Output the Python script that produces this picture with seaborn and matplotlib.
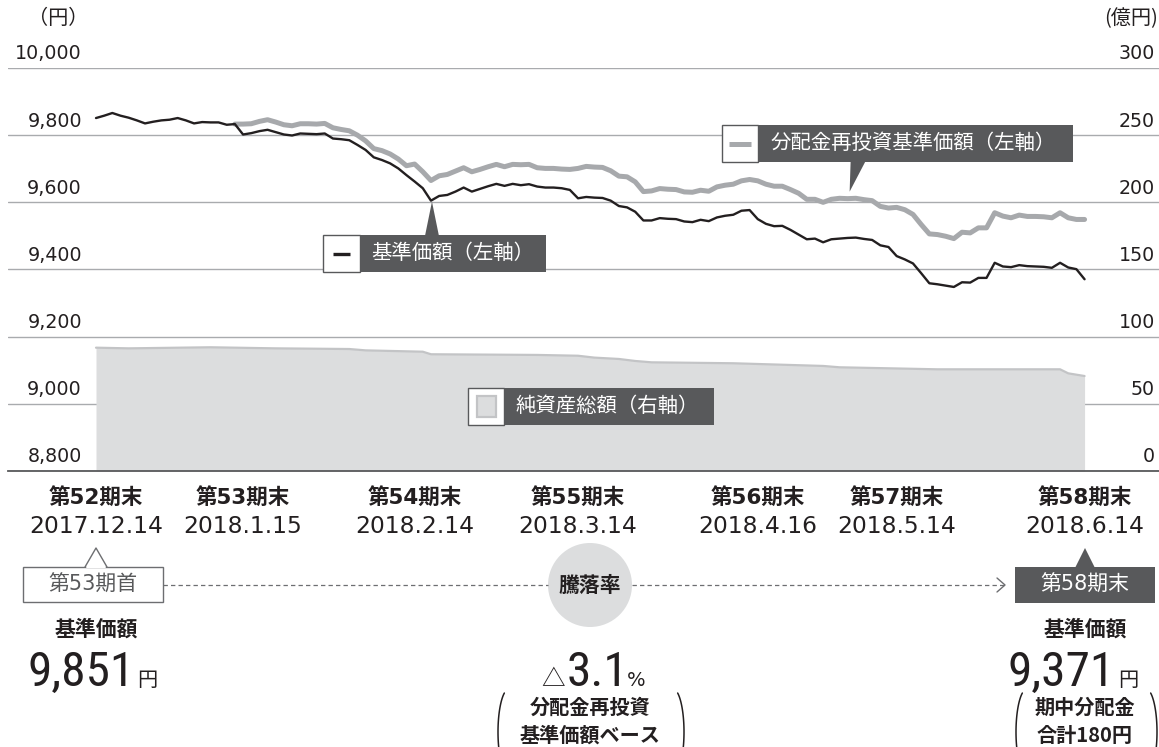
import numpy as np
import pandas as pd
import matplotlib
matplotlib.use("Agg")
import matplotlib.pyplot as plt
import seaborn as sns
from matplotlib import font_manager
from matplotlib.transforms import ScaledTranslation
from matplotlib.patches import Rectangle, Polygon, Circle

# ---------------- data ----------------
nav = [9851, 9858, 9866, 9858, 9852, 9844, 9835, 9840, 9844, 9846,
       9851, 9844, 9835, 9839, 9838, 9838, 9831, 9833, 9802, 9806,
       9812, 9816, 9809, 9802, 9799, 9805, 9804, 9803, 9805, 9790,
       9788, 9785, 9771, 9756, 9734, 9726, 9716, 9701, 9681, 9662,
       9642, 9605, 9619, 9622, 9632, 9644, 9632, 9640, 9648, 9655,
       9649, 9655, 9651, 9654, 9647, 9644, 9644, 9642, 9637, 9612,
       9616, 9614, 9613, 9605, 9589, 9585, 9572, 9546, 9546, 9553,
       9551, 9550, 9543, 9541, 9548, 9544, 9555, 9560, 9563, 9575,
       9577, 9550, 9536, 9529, 9530, 9518, 9504, 9490, 9492, 9481,
       9490, 9492, 9494, 9495, 9491, 9488, 9472, 9467, 9440, 9430,
       9418, 9389, 9359, 9356, 9352, 9348, 9362, 9361, 9375, 9375,
       9420, 9409, 9407, 9413, 9410, 9409, 9408, 9405, 9420, 9406,
       9401, 9371]
nav_days = list(range(len(nav)))

reinvest_start = 17
reinvest = [9833, 9833, 9834, 9841, 9846, 9839, 9831, 9828, 9834, 9834,
            9833, 9835, 9822, 9817, 9813, 9800, 9783, 9760, 9754, 9744,
            9729, 9709, 9714, 9691, 9665, 9679, 9683, 9693, 9703, 9691,
            9698, 9706, 9713, 9706, 9713, 9712, 9713, 9703, 9701, 9701,
            9699, 9698, 9701, 9707, 9705, 9704, 9694, 9678, 9676, 9661,
            9632, 9634, 9641, 9639, 9638, 9631, 9630, 9636, 9633, 9646,
            9651, 9654, 9664, 9668, 9664, 9654, 9648, 9648, 9638, 9627,
            9609, 9609, 9600, 9609, 9612, 9611, 9612, 9608, 9605, 9588,
            9583, 9585, 9578, 9564, 9534, 9506, 9504, 9499, 9492, 9511,
            9509, 9524, 9524, 9569, 9559, 9554, 9562, 9558, 9558, 9557,
            9554, 9569, 9554, 9549, 9549]
reinvest_days = list(range(reinvest_start, reinvest_start + len(reinvest)))

asset_days = [0, 4, 14, 22, 31, 33, 40, 41, 54, 59, 61, 64, 66, 68, 78,
              89, 91, 103, 118, 119, 121]
net_assets = [91.8, 91.3, 92.1, 91.3, 90.8, 89.8, 88.8, 86.9, 86.4, 85.8,
              84.4, 83.4, 81.9, 80.9, 80.2, 78.2, 77.2, 75.7, 75.7, 72.7, 70.7]

tick_days = [0, 18, 39, 59, 81, 98, 121]
period_labels = ["第52期末", "第53期末", "第54期末", "第55期末", "第56期末", "第57期末", "第58期末"]
date_labels = ["2017.12.14", "2018.1.15", "2018.2.14", "2018.3.14", "2018.4.16", "2018.5.14", "2018.6.14"]
left_ticks = [8800, 9000, 9200, 9400, 9600, 9800, 10000]
right_ticks = [0, 50, 100, 150, 200, 250, 300]

start_nav_text = "9,851"
end_nav_text = "9,371"
change_text = "3.1"

# ---------------- style ----------------
sns.set_theme(style="white")
plt.rcParams["font.family"] = ["DejaVu Sans", "Noto Sans CJK JP"]
JP = ["Noto Sans CJK JP", "DejaVu Sans"]
NUM = ["DejaVu Sans", "Noto Sans CJK JP"]
names = {f.name for f in font_manager.fontManager.ttflist}
BIG = next((n for n in ["Liberation Sans Narrow", "Roboto Condensed", "Open Sans Condensed",
                        "Roboto", "DejaVu Sans"] if n in names), "DejaVu Sans")

INK = "#231f20"
DARK = "#58595b"
GRAYLINE = "#a7a9ac"
FILL = "#dcddde"
FILLEDGE = "#c3c4c6"
GRID = "#a9abae"

W, H = 1159, 747
fig = plt.figure(figsize=(W / 100, H / 100), dpi=100)

ax_left_px, ax_right_px, ax_top_px, ax_bot_px = 8, 1159, 68, 471
ax = fig.add_axes([ax_left_px / W, 1 - ax_bot_px / H,
                   (ax_right_px - ax_left_px) / W, (ax_bot_px - ax_top_px) / H])
ax2 = ax.twinx()
ax.set_zorder(3)
ax.patch.set_visible(False)
ax2.set_zorder(2)

# x scale: business-day index, 8.17 px per day, day 0 at x=96
px_per_day = 8.17
x0_px = 96
ax.set_xlim((ax_left_px - x0_px) / px_per_day, (ax_right_px - x0_px) / px_per_day)
ax.set_ylim(left_ticks[0], left_ticks[-1])
ax2.set_ylim(right_ticks[0], right_ticks[-1])

# ---- net assets (right axis) ----
df_assets = pd.DataFrame({"day": asset_days, "assets": net_assets})
ax2.fill_between(df_assets["day"], df_assets["assets"], 0, color=FILL, lw=0, zorder=1)
sns.lineplot(data=df_assets, x="day", y="assets", ax=ax2, color=FILLEDGE, linewidth=1.6, zorder=2)

# ---- price lines (left axis) ----
df_nav = pd.DataFrame({"day": nav_days, "nav": nav})
df_re = pd.DataFrame({"day": reinvest_days, "reinvest": reinvest})
sns.lineplot(data=df_re, x="day", y="reinvest", ax=ax, color=GRAYLINE, linewidth=3.6, zorder=3)
sns.lineplot(data=df_nav, x="day", y="nav", ax=ax, color=INK, linewidth=1.7, zorder=4)

# ---- grid / spines ----
ax2.set_axisbelow(True)
ax2.set_yticks(right_ticks)
ax2.yaxis.grid(True, color=GRID, lw=1.0)
ax2.xaxis.grid(False)
ax.grid(False)
for s in ax2.spines.values():
    s.set_visible(False)
for k, s in ax.spines.items():
    s.set_visible(k == "bottom")
ax.spines["bottom"].set_color(DARK)
ax.spines["bottom"].set_linewidth(1.3)
ax.set_xlabel("")
ax.set_ylabel("")
ax2.set_xlabel("")
ax2.set_ylabel("")

# left tick labels (above grid lines, right-aligned at x=82)
ax.set_yticks(left_ticks)
ax.set_yticklabels([f"{v:,}" for v in left_ticks])
ax.tick_params(axis="y", length=0, pad=0, labelsize=13.7, labelcolor=INK)
off_left = ScaledTranslation(74 / 100, 16 / 100, fig.dpi_scale_trans)
for lab in ax.get_yticklabels():
    lab.set_transform(lab.get_transform() + off_left)
    lab.set_fontfamily(NUM)

ax2.set_yticklabels([str(v) for v in right_ticks])
ax2.tick_params(axis="y", length=0, pad=0, labelsize=13.7, labelcolor=INK)
off_right = ScaledTranslation(-4 / 100, 16 / 100, fig.dpi_scale_trans)
for lab in ax2.get_yticklabels():
    lab.set_transform(lab.get_transform() + off_right)
    lab.set_horizontalalignment("right")
    lab.set_fontfamily(NUM)

# x ticks: dates
ax.set_xticks(tick_days)
ax.set_xticklabels(date_labels)
ax.tick_params(axis="x", length=5, width=1, color=INK, direction="out", pad=27,
               labelsize=16.8, labelcolor=INK)

# ---------------- overlay in pixel coordinates ----------------
ov = fig.add_axes([0, 0, 1, 1], zorder=10)
ov.set_xlim(0, W)
ov.set_ylim(H, 0)
ov.axis("off")
ov.patch.set_visible(False)


def to_px(axis, x, y):
    X, Y = axis.transData.transform((x, y))
    return X, H - Y


# period labels above dates
for d, lab in zip(tick_days, period_labels):
    xp, _ = to_px(ax, d, left_ticks[0])
    ov.text(xp, 497, lab, ha="center", va="center", fontsize=15.5, fontweight="bold",
            color=INK, family=NUM)

# unit labels
ov.text(58, 19, "（円）", ha="center", va="center", fontsize=14.5, color=INK, family=JP)
ov.text(1158, 19, "(億円)", ha="right", va="center", fontsize=14.5, color=INK, family=JP)

# ---- callout: 基準価額（左軸） ----
ov.add_patch(Rectangle((323, 235), 37, 37, fc="white", ec=DARK, lw=1.0))
ov.plot([333, 350], [253.5, 253.5], color=INK, lw=2.4, solid_capstyle="butt")
ov.add_patch(Rectangle((360, 235), 186, 37, fc=DARK, ec="none"))
ov.text(371, 253.5, "基準価額（左軸）", ha="left", va="center", fontsize=14.7, color="white", family=JP)
ax_px, ay_px = to_px(ax, nav_days[41], nav[41])
ov.add_patch(Polygon([(ax_px - 6, 236), (ax_px + 1, ay_px + 1), (ax_px + 8, 236)], closed=True,
                     fc=DARK, ec="none"))

# ---- callout: 分配金再投資基準価額（左軸） ----
ov.add_patch(Rectangle((722, 125), 36, 37, fc="white", ec=DARK, lw=1.0))
ov.plot([729, 751], [143.5, 143.5], color=GRAYLINE, lw=3.6, solid_capstyle="butt")
ov.add_patch(Rectangle((758, 125), 315, 37, fc=DARK, ec="none"))
ov.text(771, 143.5, "分配金再投資基準価額（左軸）", ha="left", va="center", fontsize=14.7,
        color="white", family=JP)
bx_px, by_px = to_px(ax, reinvest_days[75], reinvest[75])
ov.add_patch(Polygon([(bx_px + 3, 161), (bx_px + 2, by_px - 7), (bx_px + 18, 161)], closed=True,
                     fc=DARK, ec="none"))

# ---- callout: 純資産総額（右軸） ----
ov.add_patch(Rectangle((468, 388), 36, 37, fc="white", ec=DARK, lw=1.0))
ov.add_patch(Rectangle((477, 396), 19, 21, fc=FILL, ec=FILLEDGE, lw=1.6))
ov.add_patch(Rectangle((504, 388), 210, 37, fc=DARK, ec="none"))
ov.text(516, 406.5, "純資産総額（右軸）", ha="left", va="center", fontsize=14.7, color="white", family=JP)

# ---------------- bottom summary ----------------
# 第53期首 outlined box with pointer
ov.add_patch(Rectangle((23, 567), 140, 35, fc="white", ec="#6d6e71", lw=1.0))
ov.add_patch(Polygon([(86, 568), (96, 549), (106, 568)], closed=True, fc="white", ec="none", zorder=3))
ov.plot([85, 96, 107], [567, 548, 567], color="#6d6e71", lw=1.0, zorder=4)
ov.text(93, 585, "第53期首", ha="center", va="center", fontsize=15, color=DARK, family=NUM)

# dashed connector and circle
ov.plot([163, 548], [585, 585], color="#6d6e71", lw=0.9, ls=(0, (3.5, 2.5)))
ov.plot([632, 1004], [585, 585], color="#6d6e71", lw=0.9, ls=(0, (3.5, 2.5)))
ov.plot([997, 1005, 997], [578, 585, 592], color="#6d6e71", lw=1.0)
ov.add_patch(Circle((590, 585), 42, fc=FILL, ec="none"))
ov.text(590, 585, "騰落率", ha="center", va="center", fontsize=15, fontweight="bold", color=INK, family=JP)

# 第58期末 filled box with pointer
ov.add_patch(Rectangle((1015, 567), 140, 36, fc=DARK, ec="none"))
ov.add_patch(Polygon([(1075, 568), (1085, 548), (1095, 568)], closed=True, fc=DARK, ec="none"))
ov.text(1085, 585, "第58期末", ha="center", va="center", fontsize=15, color="white", family=NUM)

# labels and numbers
ov.text(96, 629, "基準価額", ha="center", va="center", fontsize=15, fontweight="bold", color=INK, family=JP)
ov.text(1085, 629, "基準価額", ha="center", va="center", fontsize=15, fontweight="bold", color=INK, family=JP)

ov.text(135, 686, start_nav_text, ha="right", va="baseline", fontsize=35.5, color=INK, family=BIG)
ov.text(137, 686, "円", ha="left", va="baseline", fontsize=14.5, color=INK, family=JP)
ov.text(1115, 686, end_nav_text, ha="right", va="baseline", fontsize=35.5, color=INK, family=BIG)
ov.text(1118, 686, "円", ha="left", va="baseline", fontsize=14.5, color=INK, family=JP)

ov.text(565, 686, "△", ha="right", va="baseline", fontsize=17, color=INK, family=JP)
ov.text(567, 686, change_text, ha="left", va="baseline", fontsize=35.5, color=INK, family=BIG)
ov.text(627, 686, "%", ha="left", va="baseline", fontsize=14, color=INK, family=NUM)

ov.text(590, 707, "分配金再投資", ha="center", va="center", fontsize=14.5, fontweight="bold", color=INK, family=JP)
ov.text(590, 735, "基準価額ベース", ha="center", va="center", fontsize=14.5, fontweight="bold", color=INK, family=JP)
ov.text(1085, 707, "期中分配金", ha="center", va="center", fontsize=14.5, fontweight="bold", color=INK, family=JP)
ov.text(1085, 736, "合計180円", ha="center", va="center", fontsize=14.5, fontweight="bold", color=INK, family=JP)


def paren(x_edge, side, cy=732, h=86, w=22):
    t = np.radians(np.linspace(115, 245, 60))
    xs = (w / 2) * np.cos(t)
    ys = cy + (h / 2) * np.sin(t)
    if side == "left":
        ov.plot(x_edge + w / 2 + xs, ys, color=INK, lw=1.1, solid_capstyle="round")
    else:
        ov.plot(x_edge - w / 2 - xs, ys, color=INK, lw=1.1, solid_capstyle="round")


paren(498, "left")
paren(684, "right")
paren(1016, "left")
paren(1157, "right")

fig.savefig("out.png", dpi=100)
